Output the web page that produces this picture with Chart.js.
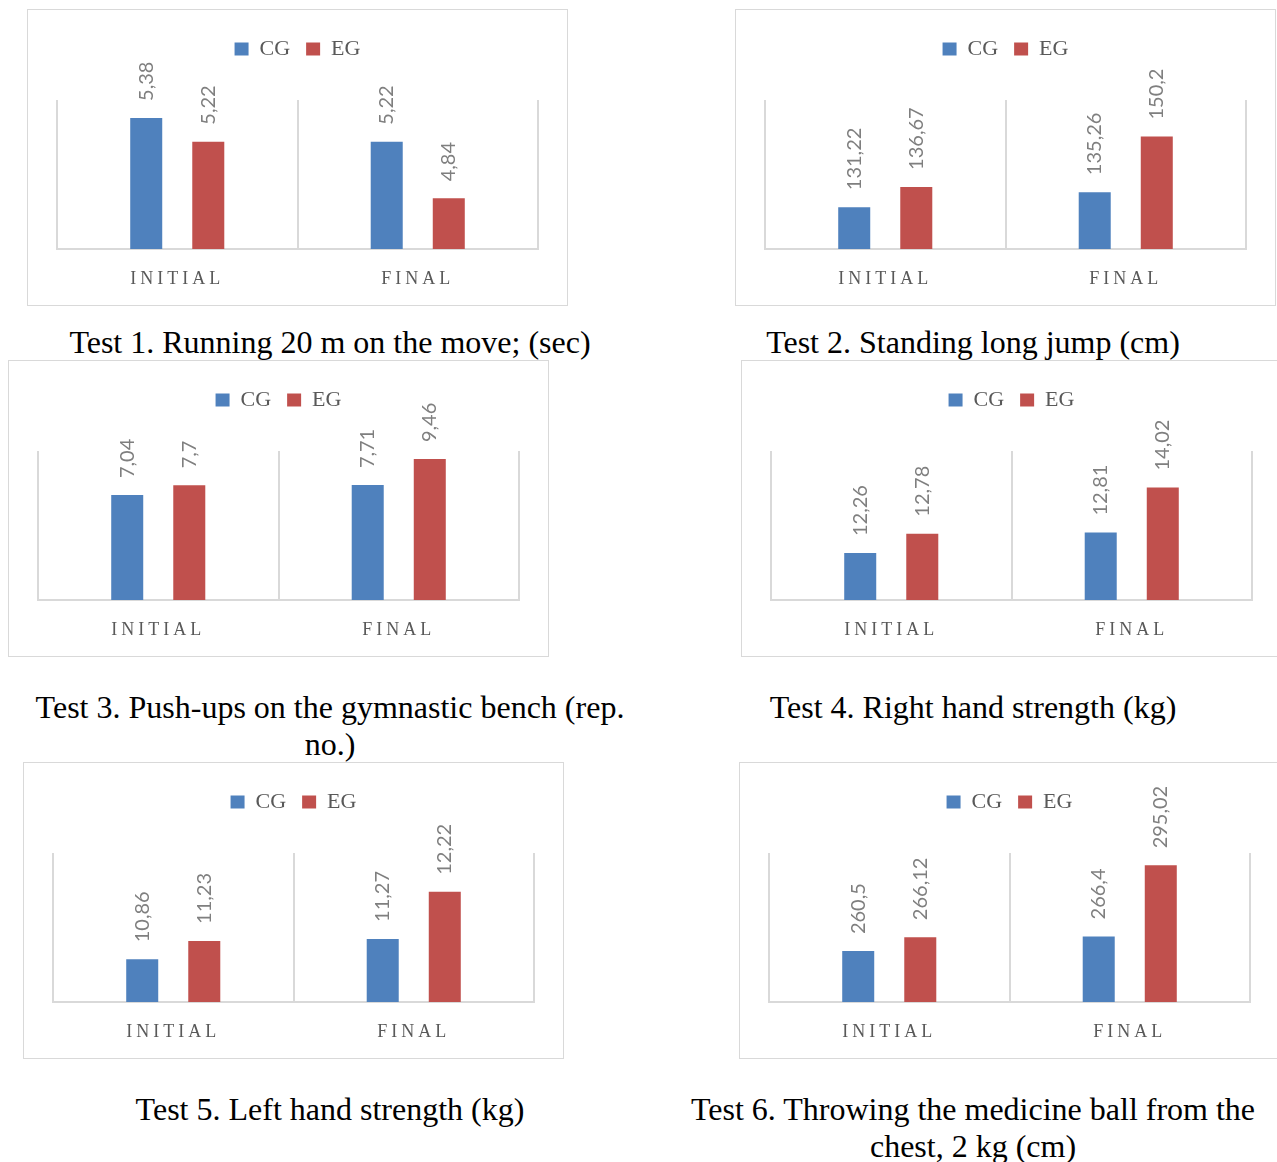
<!DOCTYPE html>
<html>
<head>
<meta charset="utf-8">
<title>Test results: CG vs EG</title>
<script src="https://cdn.jsdelivr.net/npm/chart.js@4.4.1/dist/chart.umd.min.js"></script>
<style>
  html, body { margin: 0; padding: 0; background: #ffffff; width: 1277px; height: 1162px; overflow: hidden; }
  .panel { position: absolute; width: 539px; height: 295px; border: 1px solid #d9d9d9; background: #fff; }
  .panel canvas { display: block; }
  .caption {
    position: absolute; width: 680px; text-align: center; white-space: nowrap;
    font-family: "Liberation Serif", "Times New Roman", serif; font-size: 32px; line-height: 37px; color: #000;
  }
</style>
</head>
<body>
<script>
// ---- data ----
const CATEGORIES = ['INITIAL', 'FINAL'];
const GROUPS = ['CG', 'EG'];

const TEST1_CG = [5.38, 5.22];
const TEST1_EG = [5.22, 4.84];
const TEST2_CG = [131.22, 135.26];
const TEST2_EG = [136.67, 150.2];
const TEST3_CG = [7.04, 7.71];
const TEST3_EG = [7.7, 9.46];
const TEST4_CG = [12.26, 12.81];
const TEST4_EG = [12.78, 14.02];
const TEST5_CG = [10.86, 11.27];
const TEST5_EG = [11.23, 12.22];
const TEST6_CG = [260.5, 266.4];
const TEST6_EG = [266.12, 295.02];

// value-axis range of each panel (min, max)
const TEST1_RANGE = [4.5, 5.5];
const TEST2_RANGE = [120, 160];
const TEST3_RANGE = [0, 10];
const TEST4_RANGE = [11, 15];
const TEST5_RANGE = [10, 13];
const TEST6_RANGE = [240, 300];

const TEST1_CAPTION = ['Test 1. Running 20 m on the move; (sec)'];
const TEST2_CAPTION = ['Test 2. Standing long jump (cm)'];
const TEST3_CAPTION = ['Test 3. Push-ups on the gymnastic bench (rep.', 'no.)'];
const TEST4_CAPTION = ['Test 4. Right hand strength (kg)'];
const TEST5_CAPTION = ['Test 5. Left hand strength (kg)'];
const TEST6_CAPTION = ['Test 6. Throwing the medicine ball from the', 'chest, 2 kg (cm)'];

// ---- page layout ----
const PANELS = [
  { cg: TEST1_CG, eg: TEST1_EG, range: TEST1_RANGE, caption: TEST1_CAPTION, left: 27,  top: 9,   capX: 330, capY: 324 },
  { cg: TEST2_CG, eg: TEST2_EG, range: TEST2_RANGE, caption: TEST2_CAPTION, left: 735, top: 9,   capX: 973, capY: 324 },
  { cg: TEST3_CG, eg: TEST3_EG, range: TEST3_RANGE, caption: TEST3_CAPTION, left: 8,   top: 360, capX: 330, capY: 689 },
  { cg: TEST4_CG, eg: TEST4_EG, range: TEST4_RANGE, caption: TEST4_CAPTION, left: 741, top: 360, capX: 973, capY: 689 },
  { cg: TEST5_CG, eg: TEST5_EG, range: TEST5_RANGE, caption: TEST5_CAPTION, left: 23,  top: 762, capX: 330, capY: 1091 },
  { cg: TEST6_CG, eg: TEST6_EG, range: TEST6_RANGE, caption: TEST6_CAPTION, left: 739, top: 762, capX: 973, capY: 1091 }
];

const CANVAS_W = 539, CANVAS_H = 295;
const PAD_TOP = 12;          // space above the legend
const PLOT_TOP = 90;         // top of the plotting area inside each panel
const AXIS_BAND = 56;        // height of the category-label band under the plot

const BLUE = '#4f81bd';
const RED = '#c0504d';
const GRID = '#d9d9d9';

// Rotated value labels above each bar; also widens letter spacing for the
// category labels, which are drawn right after the bars (ticks.z = 1).
const barValueLabels = {
  id: 'barValueLabels',
  beforeLayout(chart) {
    const lg = chart.legend;
    if (lg && !lg.__blockHeight) {
      const fit = lg.fit;
      lg.fit = function () { fit.call(this); this.height = PLOT_TOP - PAD_TOP; };
      lg.__blockHeight = true;
    }
  },
  afterDatasetsDraw(chart) {
    const ctx = chart.ctx;
    ctx.save();
    ctx.font = '20px Lato';
    ctx.fillStyle = '#7f7f7f';
    ctx.textAlign = 'left';
    ctx.textBaseline = 'middle';
    chart.data.datasets.forEach((ds, i) => {
      chart.getDatasetMeta(i).data.forEach((bar, j) => {
        ctx.save();
        ctx.translate(bar.x, bar.y - 17);
        ctx.rotate(-Math.PI / 2);
        ctx.fillText(String(ds.data[j]).replace('.', ','), 0, 0);
        ctx.restore();
      });
    });
    ctx.restore();
    ctx.letterSpacing = '4px';
  },
  afterDraw(chart) {
    chart.ctx.letterSpacing = '0px';
  }
};

PANELS.forEach((p) => {
  const box = document.createElement('div');
  box.className = 'panel';
  box.style.left = p.left + 'px';
  box.style.top = p.top + 'px';
  const canvas = document.createElement('canvas');
  canvas.width = CANVAS_W;
  canvas.height = CANVAS_H;
  canvas.style.width = CANVAS_W + 'px';
  canvas.style.height = CANVAS_H + 'px';
  box.appendChild(canvas);
  document.body.appendChild(box);

  const cap = document.createElement('div');
  cap.className = 'caption';
  cap.style.left = (p.capX - 340) + 'px';
  cap.style.top = p.capY + 'px';
  cap.innerHTML = p.caption.join('<br>');
  document.body.appendChild(cap);

  new Chart(canvas, {
    type: 'bar',
    data: {
      labels: CATEGORIES,
      datasets: [
        { label: GROUPS[0], data: p.cg, backgroundColor: BLUE },
        { label: GROUPS[1], data: p.eg, backgroundColor: RED }
      ]
    },
    options: {
      responsive: false,
      animation: false,
      devicePixelRatio: 1,
      layout: { padding: { left: 29, right: 29, top: PAD_TOP, bottom: 0 } },
      datasets: { bar: { categoryPercentage: 0.516, barPercentage: 0.516 } },
      plugins: {
        tooltip: { enabled: false },
        legend: {
          position: 'top',
          labels: {
            boxWidth: 14, boxHeight: 13, padding: 16,
            color: '#595959',
            font: { family: 'Liberation Serif', size: 22 }
          }
        }
      },
      scales: {
        x: {
          grid: { offset: true, color: GRID, lineWidth: 2, drawTicks: false },
          border: { color: GRID, width: 2 },
          ticks: {
            z: 1, padding: 19, maxRotation: 0, autoSkip: false,
            color: '#595959',
            font: { family: 'Liberation Serif', size: 18 }
          },
          afterFit(scale) { scale.height = AXIS_BAND; }
        },
        y: { display: false, min: p.range[0], max: p.range[1] }
      }
    },
    plugins: [barValueLabels]
  });
});
</script>
</body>
</html>
